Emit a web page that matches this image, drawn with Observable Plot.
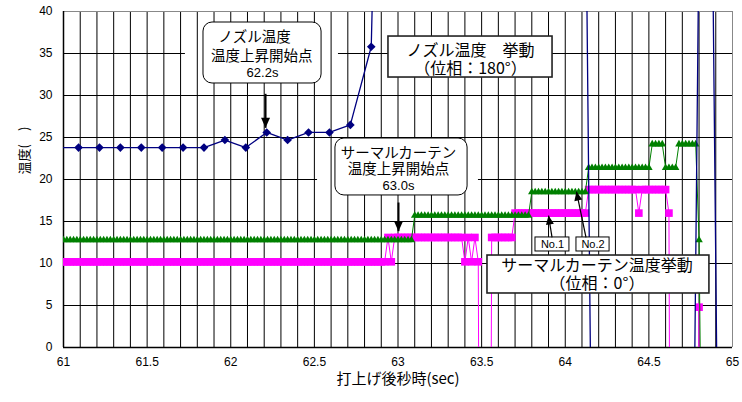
<!DOCTYPE html>
<html><head><meta charset="utf-8">
<script src="https://cdn.jsdelivr.net/npm/d3@7"></script>
<script src="https://cdn.jsdelivr.net/npm/@observablehq/plot@0.6"></script>
<style>body{margin:0;background:#fff} #chart svg{display:block}</style>
</head><body><div id="chart"></div>
<script>
// ---- tick labels / axes ----
const xTicks = [61, 61.5, 62, 62.5, 63, 63.5, 64, 64.5, 65];
const xTickLabels = ["61", "61.5", "62", "62.5", "63", "63.5", "64", "64.5", "65"];
const yTicks = [0, 5, 10, 15, 20, 25, 30, 35, 40];
const xTitle = "打上げ後秒時(sec)";
const yTitle = "温度(　)";

// ---- nozzle temperature (navy, diamonds), one sample every ~0.125 s ----
const nozzleT = [60.965, 61.09, 61.215, 61.34, 61.465, 61.59, 61.715, 61.84, 61.965, 62.09,
  62.215, 62.34, 62.465, 62.59, 62.715, 62.84, 62.965, 63.09, 63.215, 63.34, 63.465, 63.59,
  63.715, 63.84, 63.965, 64.09, 64.215, 64.34, 64.465, 64.59, 64.715, 64.84, 64.965];
const nozzleV = [23.8, 23.8, 23.8, 23.8, 23.8, 23.8, 23.8, 23.8, 24.7, 23.8,
  25.6, 24.7, 25.6, 25.6, 26.5, 35.8, 140, 150, 150, 150, 150, 150,
  150, 150, 150, 120, -130, -130, -130, -130, -120, 130, -120];

// ---- thermal curtain temperatures: runs of constant readings [from, to, value], sampled every 0.02 s ----
const sampleStep = 0.02;
const no1Runs = [ // magenta squares (No.1)
  [61.00, 62.92, 10.2], [62.94, 62.94, 13.1], [62.96, 62.96, 10.2], [62.98, 62.98, 13.1],
  [63.00, 63.38, 13.1], [63.40, 63.40, 10.2], [63.42, 63.42, 13.1], [63.44, 63.44, 10.2],
  [63.46, 63.46, 13.1], [63.48, 63.48, 10.2], [63.50, 63.54, -100], [63.56, 63.68, 13.1],
  [63.70, 64.12, 16.0], [64.14, 64.42, 18.8], [64.44, 64.44, 16.0], [64.46, 64.60, 18.8],
  [64.62, 64.62, 16.0], [64.64, 64.78, -100], [64.80, 64.80, 4.8], [64.82, 64.86, -100]
];
const no2Runs = [ // green triangles (No.2)
  [61.00, 63.08, 12.8], [63.10, 63.78, 15.7], [63.80, 64.12, 18.5], [64.14, 64.50, 21.4],
  [64.52, 64.58, 24.2], [64.60, 64.66, 21.4], [64.68, 64.78, 24.2], [64.80, 64.80, 12.8],
  [64.82, 64.84, -25]
];

function decodeRuns(runs) {
  const out = [];
  for (const [a, b, v] of runs) {
    const n = Math.round((b - a) / sampleStep);
    for (let i = 0; i <= n; i++) out.push({t: +(a + i * sampleStep).toFixed(3), v});
  }
  return out;
}
const no1 = decodeRuns(no1Runs);
const no2 = decodeRuns(no2Runs);
const nozzle = nozzleT.map((t, i) => ({t, v: nozzleV[i]}));

// ---- annotations (data coordinates) ----
const roundBoxes = [
  {x1: 61.837, x2: 62.543, y1: 31.43, y2: 38.69},
  {x1: 62.626, x2: 63.416, y1: 18.10, y2: 24.88}
];
const squareBoxes = [
  {x1: 62.943, x2: 63.924, y1: 32.14, y2: 37.02},
  {x1: 63.535, x2: 64.862, y1: 6.43, y2: 10.95}
];
const smallBoxes = [
  {x1: 63.822, x2: 64.025, y1: 11.43, y2: 13.10},
  {x1: 64.067, x2: 64.265, y1: 11.43, y2: 13.10}
];
const gridGaps = [
  {x1: 61.729, x2: 62.644, y1: 34.8, y2: 35.2},
  {x1: 62.519, x2: 63.481, y1: 19.8, y2: 20.2}
];
const labelsMid = [
  {x: 62.185, y: 36.0, text: "ノズル温度　\n温度上昇開始点", lh: 1.31},
  {x: 63.003, y: 22.25, text: "サーマルカーテン\n温度上昇開始点", lh: 1.1}
];
const labelsSec = [
  {x: 62.19, y: 32.65, text: "62.2s"},
  {x: 63.003, y: 19.2, text: "63.0s"}
];
const labelsBig = [
  {x: 63.433, y: 34.29, text: "ノズル温度　挙動\n（位相：180°）"},
  {x: 64.19, y: 8.69, text: "サーマルカーテン温度挙動\n（位相：0°）"}
];
const labelsNo = [
  {x: 63.924, y: 12.25, text: "No.1"},
  {x: 64.166, y: 12.25, text: "No.2"}
];
const bigArrows = [
  {x1: 62.208, y1: 30.2, x2: 62.208, y2: 26.15, rot: 180},
  {x1: 63.003, y1: 17.26, x2: 63.003, y2: 13.85, rot: 180}
];
const thinArrows = [
  {x1: 63.921, y1: 13.10, x2: 63.900, y2: 15.71, rot: -9},
  {x1: 64.124, y1: 13.10, x2: 64.067, y2: 18.57, rot: -11.7}
];

const FONT = "'Liberation Sans', Arial, 'Noto Sans CJK JP', sans-serif";
const JFONT = "'Noto Sans CJK JP', 'Liberation Sans', sans-serif";

const chart = Plot.plot({
  width: 742, height: 402,
  marginLeft: 63, marginRight: 10, marginTop: 11, marginBottom: 55,
  style: {fontFamily: FONT, fontSize: "12px", background: "white", color: "black"},
  x: {domain: [61, 65], ticks: xTicks, tickFormat: d => xTickLabels[xTicks.indexOf(d)], tickSize: 0, tickPadding: 10, label: null},
  y: {domain: [0, 40], ticks: yTicks, tickFormat: d => String(d), tickSize: 0, tickPadding: 11, label: null},
  marks: [
    Plot.ruleY(yTicks.filter(d => d > 0 && d < 40), {stroke: "#000", strokeWidth: 1}),
    Plot.rect(gridGaps, {x1: "x1", x2: "x2", y1: "y1", y2: "y2", fill: "white"}),
    Plot.ruleX(d3.range(1, 40).map(i => 61 + i / 10), {stroke: "#000", strokeWidth: 1}),
    Plot.ruleY([40], {stroke: "#888", strokeWidth: 1}),
    Plot.ruleX([65], {stroke: "#888", strokeWidth: 1}),
    Plot.ruleX([61], {stroke: "#000", strokeWidth: 1.5}),
    Plot.ruleY([0], {stroke: "#000", strokeWidth: 1.5}),

    Plot.line(no1, {x: "t", y: "v", stroke: "#ff00ff", strokeWidth: 1, clip: true}),
    Plot.dot(no1, {x: "t", y: "v", symbol: "square", r: 4.3, fill: "#ff00ff", stroke: "none", clip: true}),
    Plot.line(no2, {x: "t", y: "v", stroke: "#008000", strokeWidth: 1, clip: true}),
    Plot.dot(no2, {x: "t", y: "v", symbol: "triangle", r: 2.8, fill: "#008000", stroke: "none", clip: true}),
    Plot.line(nozzle, {x: "t", y: "v", stroke: "#000080", strokeWidth: 1.3, clip: true}),
    Plot.dot(nozzle, {x: "t", y: "v", symbol: "diamond2", r: 3.9, fill: "#000080", stroke: "none", clip: true}),

    Plot.rect(roundBoxes, {x1: "x1", x2: "x2", y1: "y1", y2: "y2", fill: "white", stroke: "#000", strokeWidth: 1, rx: 9}),
    Plot.rect(squareBoxes, {x1: "x1", x2: "x2", y1: "y1", y2: "y2", fill: "white", stroke: "#222", strokeWidth: 1.6}),
    Plot.rect(smallBoxes, {x1: "x1", x2: "x2", y1: "y1", y2: "y2", fill: "white", stroke: "#000", strokeWidth: 1}),

    Plot.text(labelsMid.slice(0, 1), {x: "x", y: "y", text: "text", lineHeight: 1.31, fontSize: 14.5, fontFamily: JFONT, fill: "#000"}),
    Plot.text(labelsMid.slice(1), {x: "x", y: "y", text: "text", lineHeight: 1.1, fontSize: 14.5, fontFamily: JFONT, fill: "#000"}),
    Plot.text(labelsSec, {x: "x", y: "y", text: "text", fontSize: 13, fill: "#000"}),
    Plot.text(labelsBig, {x: "x", y: "y", text: "text", lineHeight: 1.125, fontSize: 16, fontFamily: JFONT, fill: "#000"}),
    Plot.text(labelsNo, {x: "x", y: "y", text: "text", fontSize: 11, fill: "#000"}),

    Plot.link(bigArrows, {x1: "x1", y1: "y1", x2: "x2", y2: "y2", stroke: "#000", strokeWidth: 2}),
    Plot.vector(bigArrows, {x: "x2", y: "y2", rotate: "rot", length: 10, r: 4.5, shape: "spike", anchor: "end", fill: "#000", stroke: "none"}),
    Plot.link(thinArrows, {x1: "x1", y1: "y1", x2: "x2", y2: "y2", stroke: "#000", strokeWidth: 1.2}),
    Plot.vector(thinArrows, {x: "x2", y: "y2", rotate: "rot", length: 9, r: 4, shape: "spike", anchor: "end", fill: "#000", stroke: "none"}),

    Plot.text([xTitle], {frameAnchor: "bottom", dy: 36, fontSize: 15, fontFamily: JFONT, fill: "#000"}),
    Plot.text([yTitle], {frameAnchor: "left", y: [20.6], dx: -39, rotate: -90, fontSize: 13, fontFamily: JFONT, fill: "#000"})
  ]
});
document.getElementById("chart").append(chart);
</script></body></html>
